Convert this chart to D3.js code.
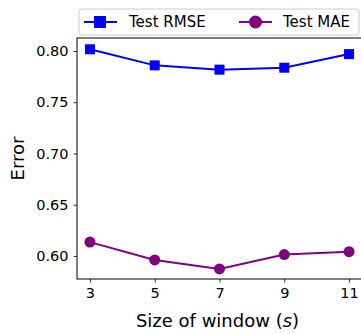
<!DOCTYPE html>
<html>
<head>
<meta charset="utf-8">
<script src="https://cdn.jsdelivr.net/npm/d3@7"></script>
<style>
  body { margin: 0; background: #fff; }
  svg { font-family: "DejaVu Sans", sans-serif; }
</style>
</head>
<body>
<svg id="chart" width="361" height="334"></svg>
<script>
// window sizes and errors
var windows = [3, 5, 7, 9, 11];
var rmse = [0.8017, 0.7860, 0.7818, 0.7837, 0.7970];
var mae = [0.6135, 0.5961, 0.5873, 0.6013, 0.6042];
var yTicks = [0.60, 0.65, 0.70, 0.75, 0.80];

var svg = d3.select("#chart");
var mLeft = 77, mRight = 362, mTop = 38, mBottom = 279;

var x = d3.scaleLinear().domain([2.6, 11.4]).range([mLeft, mRight]);
var y = d3.scaleLinear().domain([0.5775, 0.8127]).range([mBottom, mTop]);

// axes
var xAxis = svg.append("g")
    .attr("transform", "translate(0," + mBottom + ")")
    .call(d3.axisBottom(x).tickValues(windows).tickSize(3.5).tickPadding(5));
var yAxis = svg.append("g")
    .attr("transform", "translate(" + mLeft + ",0)")
    .call(d3.axisLeft(y).tickValues(yTicks).tickFormat(d3.format(".2f")).tickSize(3.5).tickPadding(5));

[xAxis, yAxis].forEach(function(a) {
    a.attr("font-family", null).attr("font-size", null);
    a.select(".domain").remove();
    a.selectAll("text").style("font-size", "14.5px").style("fill", "#000");
    a.selectAll("line").style("stroke", "#000").style("stroke-width", 0.8);
});

// frame
svg.append("rect")
    .attr("x", mLeft).attr("y", mTop)
    .attr("width", mRight - mLeft).attr("height", mBottom - mTop)
    .style("fill", "none").style("stroke", "#000").style("stroke-width", 1);

var line = d3.line()
    .x(function(d, i) { return x(windows[i]); })
    .y(function(d) { return y(d); });

// RMSE
svg.append("path").datum(rmse)
    .attr("d", line)
    .style("fill", "none").style("stroke", "blue").style("stroke-width", 2);
svg.selectAll(".sq").data(rmse).enter().append("rect")
    .attr("class", "sq")
    .attr("x", function(d, i) { return x(windows[i]) - 5; })
    .attr("y", function(d) { return y(d) - 5; })
    .attr("width", 10).attr("height", 10)
    .style("fill", "blue");

// MAE
svg.append("path").datum(mae)
    .attr("d", line)
    .style("fill", "none").style("stroke", "purple").style("stroke-width", 2);
svg.selectAll(".dot").data(mae).enter().append("circle")
    .attr("class", "dot")
    .attr("cx", function(d, i) { return x(windows[i]); })
    .attr("cy", function(d) { return y(d); })
    .attr("r", 5.5)
    .style("fill", "purple");

// axis labels
var xl = svg.append("text")
    .attr("x", (mLeft + mRight) / 2 - 2).attr("y", 327)
    .attr("text-anchor", "middle")
    .style("font-size", "18px");
xl.append("tspan").text("Size of window (");
xl.append("tspan").style("font-style", "italic").text("s");
xl.append("tspan").text(")");

svg.append("text")
    .attr("transform", "translate(24," + ((mTop + mBottom) / 2) + ") rotate(-90)")
    .attr("text-anchor", "middle")
    .style("font-size", "18px")
    .text("Error");

// legend
var lg = svg.append("g");
lg.append("rect")
    .attr("x", 79).attr("y", 9).attr("width", 280).attr("height", 26).attr("rx", 3)
    .style("fill", "#fff").style("stroke", "#ccc").style("stroke-width", 1);
lg.append("line").attr("x1", 84).attr("x2", 117).attr("y1", 22).attr("y2", 22)
    .style("stroke", "blue").style("stroke-width", 2);
lg.append("rect").attr("x", 94).attr("y", 16).attr("width", 12).attr("height", 12)
    .style("fill", "blue");
lg.append("text").attr("x", 129).attr("y", 27).style("font-size", "15px").text("Test RMSE");
lg.append("line").attr("x1", 239).attr("x2", 272).attr("y1", 22).attr("y2", 22)
    .style("stroke", "purple").style("stroke-width", 2);
lg.append("circle").attr("cx", 255.5).attr("cy", 22).attr("r", 6.5)
    .style("fill", "purple");
lg.append("text").attr("x", 283).attr("y", 27).style("font-size", "15px").text("Test MAE");
</script>
</body>
</html>
